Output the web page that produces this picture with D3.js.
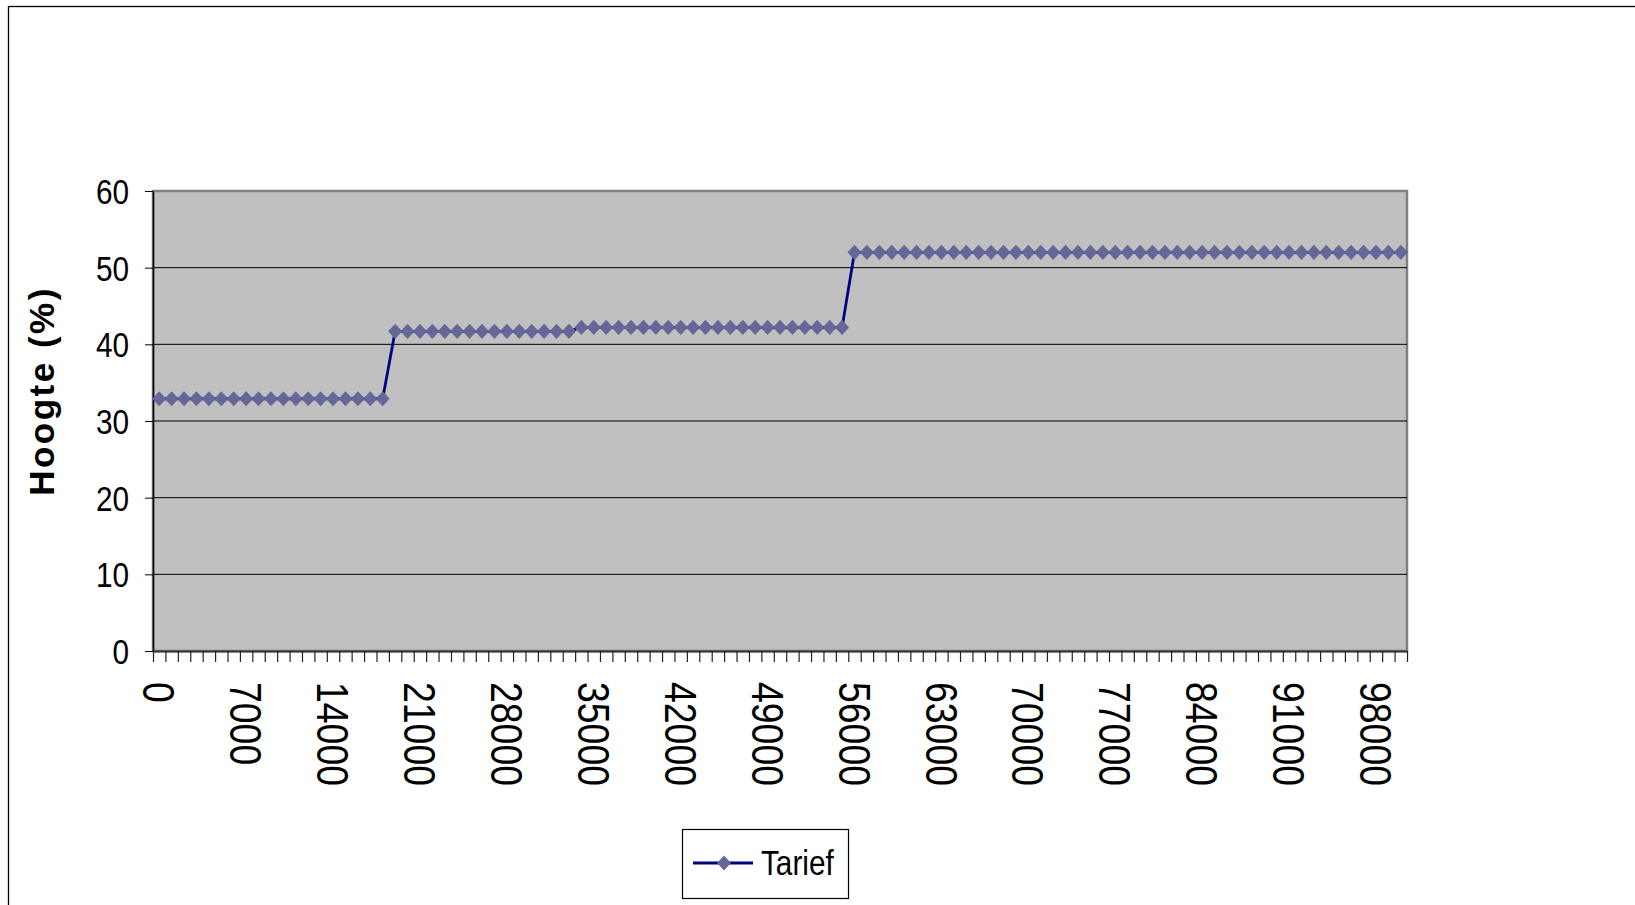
<!DOCTYPE html>
<html>
<head>
<meta charset="utf-8">
<script src="https://cdn.jsdelivr.net/npm/d3@7"></script>
<style>
  body { margin: 0; background: #fff; }
  .lbl { font-family: "Liberation Sans Narrow", "Arial Narrow", "Liberation Sans", Arial, sans-serif; fill: #000; }
</style>
</head>
<body>
<div id="chart"></div>
<script>
var svgWidth = 1635;
var svgHeight = 905;

var margin = { top: 191, right: 228, bottom: 254, left: 153 };
var width = svgWidth - margin.left - margin.right;
var height = svgHeight - margin.top - margin.bottom;

// narrow look of the Excel font (no narrow face installed)
var squeeze = 0.85;

// inkomen categories (x axis)
var categories = [
  0, 1000, 2000, 3000, 4000, 5000, 6000, 7000, 8000, 9000,
  10000, 11000, 12000, 13000, 14000, 15000, 16000, 17000, 18000, 19000,
  20000, 21000, 22000, 23000, 24000, 25000, 26000, 27000, 28000, 29000,
  30000, 31000, 32000, 33000, 34000, 35000, 36000, 37000, 38000, 39000,
  40000, 41000, 42000, 43000, 44000, 45000, 46000, 47000, 48000, 49000,
  50000, 51000, 52000, 53000, 54000, 55000, 56000, 57000, 58000, 59000,
  60000, 61000, 62000, 63000, 64000, 65000, 66000, 67000, 68000, 69000,
  70000, 71000, 72000, 73000, 74000, 75000, 76000, 77000, 78000, 79000,
  80000, 81000, 82000, 83000, 84000, 85000, 86000, 87000, 88000, 89000,
  90000, 91000, 92000, 93000, 94000, 95000, 96000, 97000, 98000, 99000,
  100000
];

// Tarief (%)
var tarief = [
  32.9, 32.9, 32.9, 32.9, 32.9, 32.9, 32.9, 32.9, 32.9, 32.9,
  32.9, 32.9, 32.9, 32.9, 32.9, 32.9, 32.9, 32.9, 32.9, 41.7,
  41.7, 41.7, 41.7, 41.7, 41.7, 41.7, 41.7, 41.7, 41.7, 41.7,
  41.7, 41.7, 41.7, 41.7, 42.2, 42.2, 42.2, 42.2, 42.2, 42.2,
  42.2, 42.2, 42.2, 42.2, 42.2, 42.2, 42.2, 42.2, 42.2, 42.2,
  42.2, 42.2, 42.2, 42.2, 42.2, 42.2, 52, 52, 52, 52,
  52, 52, 52, 52, 52, 52, 52, 52, 52, 52,
  52, 52, 52, 52, 52, 52, 52, 52, 52, 52,
  52, 52, 52, 52, 52, 52, 52, 52, 52, 52,
  52, 52, 52, 52, 52, 52, 52, 52, 52, 52,
  52
];

var xLabels = [0, 7000, 14000, 21000, 28000, 35000, 42000, 49000, 56000, 63000, 70000, 77000, 84000, 91000, 98000];
var yTicks = [0, 10, 20, 30, 40, 50, 60];
var seriesName = "Tarief";

var data = categories.map((c, i) => ({ cat: c, value: tarief[i] }));

var svg = d3.select("#chart")
  .append("svg")
  .attr("width", svgWidth)
  .attr("height", svgHeight);

// outer chart border (runs off the page right and bottom)
svg.append("rect")
  .attr("x", 8.5)
  .attr("y", 6.5)
  .attr("width", 1700)
  .attr("height", 1000)
  .attr("fill", "none")
  .attr("stroke", "#000")
  .attr("stroke-width", 1.3);

var chartGroup = svg.append("g")
  .attr("transform", `translate(${margin.left}, ${margin.top})`);

var xScale = d3.scaleBand()
  .domain(categories)
  .range([0, width])
  .padding(0);

// boundaries between categories, for the tick marks
var xEdge = d3.scaleLinear()
  .domain([0, categories.length])
  .range([0, width]);

var yScale = d3.scaleLinear()
  .domain([0, 60])
  .range([height, 0]);

// plot area
chartGroup.append("rect")
  .attr("width", width)
  .attr("height", height)
  .attr("fill", "#c0c0c0")
  .attr("stroke", "#808080")
  .attr("stroke-width", 2.5);

// gridlines
chartGroup.selectAll(".grid")
  .data(yTicks.filter(d => d > 0 && d < 60))
  .enter()
  .append("line")
  .attr("x1", 0)
  .attr("x2", width)
  .attr("y1", d => yScale(d))
  .attr("y2", d => yScale(d))
  .attr("stroke", "#000")
  .attr("stroke-width", 1);

// y axis
var leftAxis = d3.axisLeft(yScale)
  .tickValues(yTicks)
  .tickSize(8)
  .tickSizeOuter(0)
  .tickPadding(16);

var yAxis = chartGroup.append("g").call(leftAxis);
yAxis.select(".domain").attr("stroke", "#000").attr("stroke-width", 1.5);
yAxis.selectAll(".tick line").attr("stroke", "#000").attr("stroke-width", 1);
yAxis.selectAll(".tick text")
  .attr("class", "lbl")
  .attr("font-size", "35px")
  .attr("x", 0)
  .attr("transform", `translate(-24, 0) scale(${squeeze}, 1)`)
  .attr("dy", "0.36em");

// x axis: ticks between categories
var bottomAxis = d3.axisBottom(xEdge)
  .tickValues(d3.range(0, categories.length + 1))
  .tickFormat("")
  .tickSize(11)
  .tickSizeOuter(0);

var xAxis = chartGroup.append("g")
  .attr("transform", `translate(0, ${height})`)
  .call(bottomAxis);
xAxis.select(".domain").attr("stroke", "#333").attr("stroke-width", 2);
xAxis.selectAll(".tick line").attr("stroke", "#222").attr("stroke-width", 1.2);

// rotated category labels
chartGroup.selectAll(".xlabel")
  .data(xLabels)
  .enter()
  .append("text")
  .attr("class", "lbl")
  .attr("font-size", "44px")
  .attr("transform", d => `translate(${xScale(d) + xScale.bandwidth() / 2}, ${height + 31}) rotate(90) scale(${squeeze}, 1)`)
  .attr("dy", "0.36em")
  .attr("text-anchor", "start")
  .text(d => d);

// y axis title
svg.append("text")
  .attr("transform", `translate(54, 391) rotate(-90)`)
  .attr("text-anchor", "middle")
  .attr("font-family", "Liberation Sans, Arial, sans-serif")
  .attr("font-weight", "bold")
  .attr("font-size", "35px")
  .attr("letter-spacing", "2.5px")
  .text("Hoogte (%)");

// line
var line = d3.line()
  .x(d => xScale(d.cat) + xScale.bandwidth() / 2)
  .y(d => yScale(d.value));

chartGroup.append("path")
  .datum(data)
  .attr("fill", "none")
  .attr("stroke", "#000080")
  .attr("stroke-width", 2.8)
  .attr("d", line);

// diamond markers
var diamond = {
  draw: function(context, size) {
    var w = 7, h = 7.6;
    context.moveTo(0, -h);
    context.lineTo(w, 0);
    context.lineTo(0, h);
    context.lineTo(-w, 0);
    context.closePath();
  }
};

chartGroup.selectAll(".marker")
  .data(data)
  .enter()
  .append("path")
  .attr("d", d3.symbol().type(diamond))
  .attr("transform", d => `translate(${xScale(d.cat) + xScale.bandwidth() / 2}, ${yScale(d.value)})`)
  .attr("fill", "#666699");

// legend
var legend = svg.append("g")
  .attr("transform", "translate(682, 829)");

legend.append("rect")
  .attr("x", 0.5)
  .attr("y", 0.5)
  .attr("width", 166)
  .attr("height", 69)
  .attr("fill", "#fff")
  .attr("stroke", "#000")
  .attr("stroke-width", 1.2);

legend.append("line")
  .attr("x1", 11)
  .attr("x2", 71)
  .attr("y1", 34)
  .attr("y2", 34)
  .attr("stroke", "#000080")
  .attr("stroke-width", 2.8);

legend.append("path")
  .attr("d", d3.symbol().type(diamond))
  .attr("transform", "translate(42, 34)")
  .attr("fill", "#666699");

legend.append("text")
  .attr("class", "lbl")
  .attr("font-size", "35px")
  .attr("transform", `translate(79, 46) scale(${squeeze}, 1)`)
  .text(seriesName);
</script>
</body>
</html>
